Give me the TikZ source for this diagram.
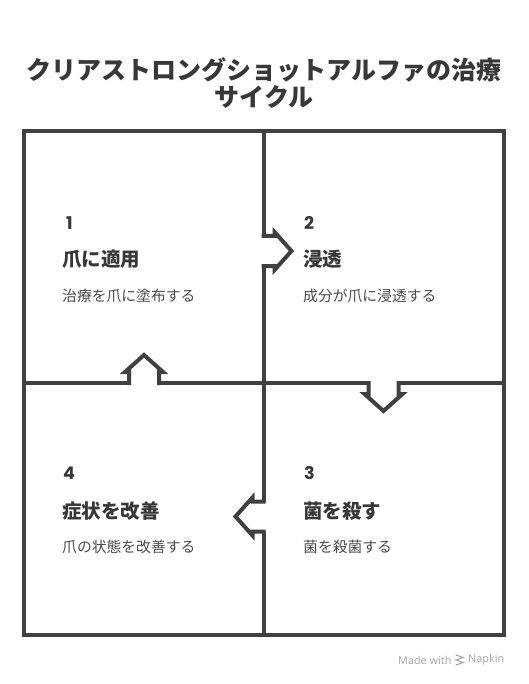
\documentclass[tikz,border=0pt]{standalone}
\usepackage{fontspec}
\setmainfont{Noto Sans CJK JP}
\newfontfamily\latinf{Noto Sans}
\newfontfamily\numf{Poppins}
\definecolor{linec}{HTML}{404040}
\definecolor{titlec}{HTML}{383838}
\definecolor{descc}{HTML}{4A4A4A}
\definecolor{footc}{HTML}{A8A8A8}
\tikzset{
  frame/.style={draw=linec, line width=4pt, line cap=rect},
  numtxt/.style={anchor=west, inner sep=0pt, text=titlec, font=\numf\fontsize{17.5}{17.5}\selectfont\bfseries},
  headtxt/.style={anchor=west, inner sep=0pt, text=titlec, font=\fontsize{19.5}{19.5}\selectfont\bfseries},
  desctxt/.style={anchor=west, inner sep=0pt, text=descc, font=\fontsize{14.8}{14.8}\selectfont},
  flowarrow/.pic={
    \fill[white] (-2.5,-15) -- (11,-15) -- (11,-19) -- (28,0) -- (11,19) -- (11,15) -- (-2.5,15) -- cycle;
    \draw[draw=linec, line width=4pt, line join=miter] (-2,-15) -- (11,-15) -- (11,-19) -- (28,0) -- (11,19) -- (11,15) -- (-2,15);
  }
}
\begin{document}
\begin{tikzpicture}[x=1pt,y=-1pt]
\useasboundingbox (0,0) rectangle (528,684);
% title
\node[anchor=center, align=center, text=titlec, font=\fontsize{25}{27.5}\selectfont\bfseries] (title) at (264,83) {クリアストロングショットアルファの治療\\サイクル};
% frame
\coordinate (tl) at (24,131.5);
\coordinate (br) at (504,635);
\draw[frame] (tl) rectangle (br);
\coordinate (vt) at (263.5,131.5);
\coordinate (vb) at (263.5,635);
\coordinate (hl) at (24,383);
\coordinate (hr) at (504,383);
\draw[frame, line cap=butt] (vt) -- (vb);
\draw[frame, line cap=butt] (hl) -- (hr);
% arrows
\pic at (263.5,251) {flowarrow};
\pic[rotate=-90] at (383.5,383) {flowarrow};
\pic[rotate=180] at (263.5,516.5) {flowarrow};
\pic[rotate=90] at (144,383) {flowarrow};
% quadrant 1
\node[numtxt] (n1) at (66,223) {1};
\node[headtxt] (h1) at (62,259) {爪に適用};
\node[desctxt] (d1) at (62,296) {治療を爪に塗布する};
% quadrant 2
\node[numtxt] (n2) at (304,223) {2};
\node[headtxt] (h2) at (303,259) {浸透};
\node[desctxt] (d2) at (303,296) {成分が爪に浸透する};
% quadrant 3
\node[numtxt] (n3) at (304,473) {3};
\node[headtxt] (h3) at (303,511) {菌を殺す};
\node[desctxt] (d3) at (303,547) {菌を殺菌する};
% quadrant 4
\node[numtxt] (n4) at (63,473) {4};
\node[headtxt] (h4) at (62,511) {症状を改善};
\node[desctxt] (d4) at (62,547) {爪の状態を改善する};
% footer
\node[anchor=west, inner sep=0pt, text=footc, font=\latinf\fontsize{10.8}{10.8}\selectfont] (made) at (398,660) {Made with};
\node[anchor=west, inner sep=0pt, text=footc, font=\latinf\fontsize{10.8}{10.8}\selectfont] (napkin) at (468,660) {Napkin};
\draw[footc, line width=1.2pt, line cap=round] (456,655) -- (463,657.5) -- (456,660) -- (463,662.5) -- (456,665);
\end{tikzpicture}
\end{document}
